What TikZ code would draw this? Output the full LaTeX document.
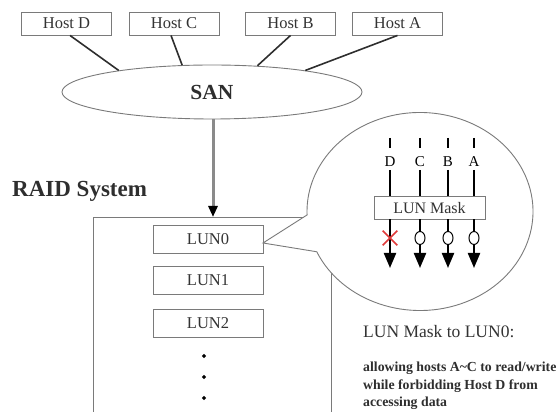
\documentclass[tikz,border=0pt]{standalone}
\usepackage{fontspec}
\setmainfont{Liberation Serif}
\usetikzlibrary{shapes.geometric,shapes.misc,arrows.meta,calc}
\definecolor{boxgray}{HTML}{7A7A7A}
\definecolor{linedark}{HTML}{2E2E2E}
\definecolor{textgray}{HTML}{333333}
\definecolor{feedgray}{HTML}{8A8A8A}
\definecolor{xred}{HTML}{E03A3A}
\begin{document}
\begin{tikzpicture}[x=1pt,y=1pt,
  hostbox/.style={draw=boxgray, line width=0.9pt, minimum width=90pt, minimum height=23pt, inner sep=0pt, font=\fontsize{16.5}{16.5}\selectfont, text=textgray},
  hostline/.style={draw=linedark, line width=1.6pt},
  lunbox/.style={draw=boxgray, line width=0.9pt, minimum width=110pt, minimum height=28pt, inner sep=0pt, font=\fontsize{16.5}{16.5}\selectfont, text=textgray},
  boxline/.style={draw=boxgray, line width=0.9pt},
  feed/.style={draw=feedgray, line width=3pt, -{Triangle[length=11pt,width=9pt,color=black]}},
  dotmark/.style={diamond, fill=black, inner sep=0pt, minimum size=4.5pt},
  bubble/.style={draw=boxgray, line width=0.9pt, fill=white},
  lbl/.style={font=\fontsize{15}{15}\selectfont, text=black, inner sep=0pt},
  tick/.style={draw=black, line width=1.4pt},
  colline/.style={draw=black, line width=2.2pt},
  downarrow/.style={draw=black, line width=2.2pt, -{Triangle[length=15pt,width=12pt]}},
  okmark/.style={ellipse, draw=black, line width=1pt, fill=white, minimum width=10pt, minimum height=13pt, inner sep=0pt},
  nomark/.style={cross out, draw=xred, line width=1.6pt, minimum size=13pt, inner sep=0pt},
  maskbox/.style={draw=boxgray, line width=0.9pt, fill=white, minimum width=111pt, minimum height=22.5pt, inner sep=0pt, font=\fontsize{16}{16}\selectfont, text=textgray}
]
\useasboundingbox (0,0) rectangle (558,412);

% hosts
\node[hostbox] (hD) at (66.5,388.5) {Host D};
\node[hostbox] (hC) at (174,388.5) {Host C};
\node[hostbox] (hB) at (290.5,388.5) {Host B};
\node[hostbox] (hA) at (397.5,388.5) {Host A};

% SAN
\node[ellipse, draw=boxgray, line width=0.9pt, minimum width=300pt, minimum height=54pt, inner sep=0pt, font=\fontsize{21.5}{21.5}\selectfont\bfseries, text=linedark] (san) at (212,320) {SAN};

\draw[hostline] ([xshift=3.5pt]hD.south) -- (san.167);
\draw[hostline] ([xshift=-3pt]hC.south) -- (san.138);
\draw[hostline] (hB.south) -- (san.30);
\draw[hostline] (hA.south) -- (san.13);

% RAID box
\coordinate (rbl) at (93,0);
\coordinate (rtl) at (93,195);
\coordinate (rtr) at (331,195);
\coordinate (rbr) at (331,0);
\draw[boxline] (rbl) -- (rtl) -- (rtr) -- (rbr);
\draw[feed] ([xshift=1pt]san.south) -- ([xshift=1pt]san.south |- rtl);

\node[anchor=west, inner sep=0pt, font=\fontsize{23}{23}\selectfont\bfseries, text=linedark] (raidlabel) at (12,221) {RAID System};

% LUNs
\node[lunbox] (lun0) at (208,173) {LUN0};
\node[lunbox] (lun1) at (208,131.5) {LUN1};
\node[lunbox] (lun2) at (208,89) {LUN2};
\node[dotmark] (dot1) at (204,56) {};
\node[dotmark] (dot2) at (204,35) {};
\node[dotmark] (dot3) at (204,14) {};

% bubble
\coordinate (bc) at (420,200.5);
\coordinate (tip) at (263,169);
\draw[bubble] ($(bc)+(204:113 and 99)$) arc[start angle=204, end angle=542, x radius=113, y radius=99] -- (tip) -- cycle;

% mask
\node[maskbox] (mask) at (429.5,204.25) {LUN Mask};

\foreach \n/\x in {D/390, C/420, B/448, A/474}{
  \coordinate (t1\n) at (\x,274);
  \coordinate (t2\n) at (\x,264);
  \draw[tick] (t1\n) -- (t2\n);
  \node[lbl] (l\n) at (\x,250) {\n};
  \coordinate (u\n) at (\x,242);
  \draw[colline] (u\n) -- (u\n |- mask.north);
  \coordinate (b\n) at (\x,144);
  \draw[downarrow] (b\n |- mask.south) -- (b\n);
}
\node[nomark] (xD) at (390,174) {};
\node[okmark] (oC) at (420,174) {};
\node[okmark] (oB) at (448,174) {};
\node[okmark] (oA) at (474,174) {};

% caption
\node[anchor=west, inner sep=0pt, font=\fontsize{17.5}{17.5}\selectfont, text=textgray] (cap) at (363,80) {LUN Mask to LUN0:};
\node[anchor=west, inner sep=0pt, font=\fontsize{13.8}{13.8}\selectfont\bfseries, text=linedark] (c1) at (363,44) {allowing hosts A\textasciitilde C to read/write};
\node[anchor=west, inner sep=0pt, font=\fontsize{13.8}{13.8}\selectfont\bfseries, text=linedark] (c2) at (363,26) {while forbidding Host D from};
\node[anchor=west, inner sep=0pt, font=\fontsize{13.8}{13.8}\selectfont\bfseries, text=linedark] (c3) at (363,9) {accessing data};
\end{tikzpicture}
\end{document}
